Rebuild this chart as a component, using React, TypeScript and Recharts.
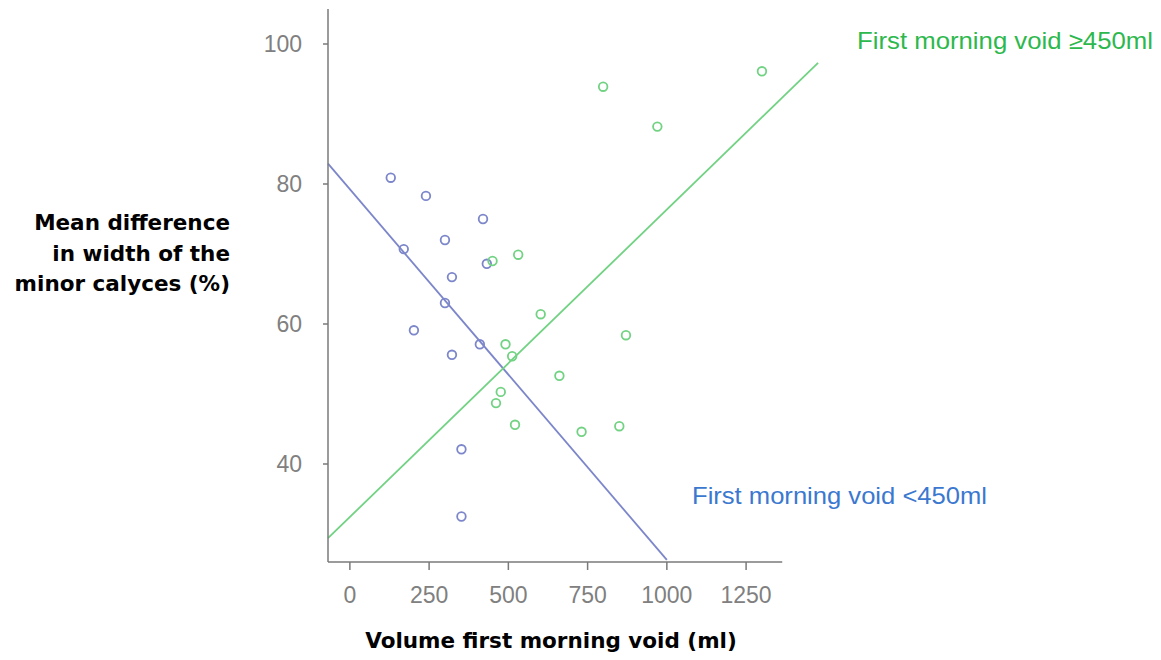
import React from "react";
import { ScatterChart, Scatter, XAxis, YAxis, ReferenceLine } from "recharts";

// ---- data ----
const blueX = [129, 240, 420, 300, 170, 432, 322, 300, 202, 410, 322, 352, 352];
const blueY = [80.9, 78.3, 75.0, 72.0, 70.7, 68.6, 66.7, 63.0, 59.1, 57.1, 55.6, 42.1, 32.5];
const greenX = [799, 970, 1300, 450, 531, 602, 871, 491, 512, 661, 476, 461, 521, 731, 850];
const greenY = [93.9, 88.2, 96.1, 69.0, 69.9, 61.4, 58.4, 57.1, 55.4, 52.6, 50.3, 48.7, 45.6, 44.6, 45.4];
const blueTrendX = [-69, 1000];
const blueTrendY = [82.9, 26.3];
const greenTrendX = [-69, 1477];
const greenTrendY = [29.4, 97.3];
const xTicks = [0, 250, 500, 750, 1000, 1250];
const yTicks = [40, 60, 80, 100];
const xDomain = [-69, 1480];
const yDomain = [26, 105];
const xAxisEnd = 1364;

const xLabel = "Volume first morning void (ml)";
const yLabelLines = ["Mean difference", "in width of the", "minor calyces (%)"];
const greenNote = "First morning void \u2265450ml";
const blueNote = "First morning void <450ml";

const blueData = blueX.map((x, i) => ({ x, y: blueY[i] }));
const greenData = greenX.map((x, i) => ({ x, y: greenY[i] }));

const BLUE = "#7c86ca";
const GREEN = "#72d283";
const AXIS = "#7a7a7a";
const TICK = "#808080";

const ring = (color: string) => (props: any) => (
  <circle cx={props.cx} cy={props.cy} r={4.3} fill="none" stroke={color} strokeWidth={1.8} />
);

const XTick = (props: any) => (
  <text x={props.x} y={595} textAnchor="middle" fontFamily="'Liberation Sans', Arial, sans-serif" fontSize={23} fill={TICK}>
    {props.payload.value}
  </text>
);
const YTick = (props: any) => (
  <text x={294} y={props.y + 8} textAnchor="end" fontFamily="'Liberation Sans', Arial, sans-serif" fontSize={23} fill={TICK}>
    {props.payload.value}
  </text>
);

export default function App() {
  return (
    <div style={{ position: "relative", width: 1145, height: 644 }}>
      <ScatterChart width={1145} height={644} margin={{ top: 1, right: 334, left: 0, bottom: 0 }}>
        <XAxis
          type="number"
          dataKey="x"
          domain={xDomain}
          ticks={xTicks}
          allowDataOverflow
          height={90}
          axisLine={false}
          tickLine={{ stroke: AXIS, strokeWidth: 1.5 }}
          tickSize={8}
          tick={<XTick />}
        />
        <YAxis
          type="number"
          dataKey="y"
          domain={yDomain}
          ticks={yTicks}
          allowDataOverflow
          width={320}
          axisLine={{ stroke: AXIS, strokeWidth: 1.5 }}
          tickLine={{ stroke: AXIS, strokeWidth: 1.5 }}
          tickSize={5}
          tick={<YTick />}
        />
        <ReferenceLine
          segment={[{ x: xDomain[0], y: yDomain[0] }, { x: xAxisEnd, y: yDomain[0] }]}
          stroke={AXIS}
          strokeWidth={1.5}
          ifOverflow="visible"
        />
        <ReferenceLine
          segment={[{ x: blueTrendX[0], y: blueTrendY[0] }, { x: blueTrendX[1], y: blueTrendY[1] }]}
          stroke={BLUE}
          strokeWidth={1.8}
          ifOverflow="visible"
        />
        <ReferenceLine
          segment={[{ x: greenTrendX[0], y: greenTrendY[0] }, { x: greenTrendX[1], y: greenTrendY[1] }]}
          stroke={GREEN}
          strokeWidth={1.8}
          ifOverflow="visible"
        />
        <Scatter data={blueData} shape={ring(BLUE)} isAnimationActive={false} />
        <Scatter data={greenData} shape={ring(GREEN)} isAnimationActive={false} />
      </ScatterChart>
      <svg
        width={1145}
        height={652}
        style={{ position: "absolute", left: 0, top: 0, pointerEvents: "none", overflow: "visible" }}
      >
        {yLabelLines.map((t, i) => (
          <text
            key={t}
            x={222}
            y={222 + i * 30.5}
            textAnchor="end"
            fontFamily="'DejaVu Sans', Verdana, sans-serif"
            fontWeight="bold"
            fontSize={21.5}
            fill="#000"
          >
            {t}
          </text>
        ))}
        <text
          x={543}
          y={640}
          textAnchor="middle"
          fontFamily="'DejaVu Sans', Verdana, sans-serif"
          fontWeight="bold"
          fontSize={21.5}
          fill="#000"
        >
          {xLabel}
        </text>
        <text
          x={849}
          y={40.5}
          fontFamily="'Liberation Sans', Arial, sans-serif"
          fontSize={24}
          fill="#2db84d"
          textLength={296}
          lengthAdjust="spacingAndGlyphs"
        >
          {greenNote}
        </text>
        <text
          x={684}
          y={495.5}
          fontFamily="'Liberation Sans', Arial, sans-serif"
          fontSize={24}
          fill="#3b78d0"
          textLength={295}
          lengthAdjust="spacingAndGlyphs"
        >
          {blueNote}
        </text>
      </svg>
    </div>
  );
}
